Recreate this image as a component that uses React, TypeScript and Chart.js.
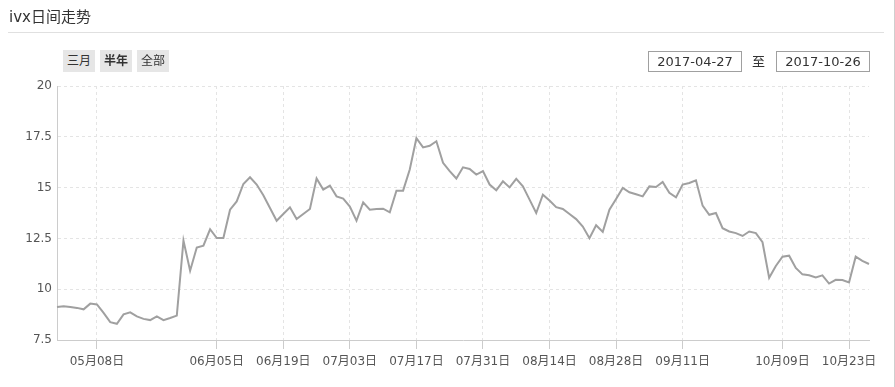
import React, { useEffect, useRef } from "react";
import { Chart, registerables } from "chart.js";

Chart.register(...registerables);

const titleText = "ivx日间走势";
const rangeButtons = ["三月", "半年", "全部"];
const activeButton = "半年";
const startDate = "2017-04-27";
const endDate = "2017-10-26";

const dates = [
  "04月27日", "04月28日",
  "05月02日", "05月03日", "05月04日", "05月05日", "05月08日", "05月09日", "05月10日", "05月11日", "05月12日",
  "05月15日", "05月16日", "05月17日", "05月18日", "05月19日", "05月22日", "05月23日", "05月24日", "05月25日", "05月26日", "05月31日",
  "06月01日", "06月02日", "06月05日", "06月06日", "06月07日", "06月08日", "06月09日", "06月12日", "06月13日", "06月14日", "06月15日", "06月16日",
  "06月19日", "06月20日", "06月21日", "06月22日", "06月23日", "06月26日", "06月27日", "06月28日", "06月29日", "06月30日",
  "07月03日", "07月04日", "07月05日", "07月06日", "07月07日", "07月10日", "07月11日", "07月12日", "07月13日", "07月14日",
  "07月17日", "07月18日", "07月19日", "07月20日", "07月21日", "07月24日", "07月25日", "07月26日", "07月27日", "07月28日", "07月31日",
  "08月01日", "08月02日", "08月03日", "08月04日", "08月07日", "08月08日", "08月09日", "08月10日", "08月11日",
  "08月14日", "08月15日", "08月16日", "08月17日", "08月18日", "08月21日", "08月22日", "08月23日", "08月24日", "08月25日",
  "08月28日", "08月29日", "08月30日", "08月31日", "09月01日", "09月04日", "09月05日", "09月06日", "09月07日", "09月08日",
  "09月11日", "09月12日", "09月13日", "09月14日", "09月15日", "09月18日", "09月19日", "09月20日", "09月21日", "09月22日",
  "09月25日", "09月26日", "09月27日", "09月28日", "09月29日",
  "10月09日", "10月10日", "10月11日", "10月12日", "10月13日", "10月16日", "10月17日", "10月18日", "10月19日", "10月20日",
  "10月23日", "10月24日", "10月25日", "10月26日",
];

const ivxValues = [
  9.12, 9.16,
  9.12, 9.08, 9.01, 9.29, 9.25, 8.83, 8.38, 8.30, 8.76,
  8.86, 8.66, 8.54, 8.48, 8.66, 8.48, 8.58, 8.70, 12.39, 10.91, 12.05,
  12.14, 12.95, 12.52, 12.52, 13.91, 14.32, 15.18, 15.51, 15.15, 14.62, 14.00, 13.37,
  13.70, 14.03, 13.45, 13.70, 13.95, 15.45, 14.90, 15.10, 14.57, 14.46,
  14.07, 13.37, 14.27, 13.91, 13.95, 13.96, 13.78, 14.85, 14.85, 15.89,
  17.43, 16.98, 17.06, 17.28, 16.22, 15.81, 15.45, 16.00, 15.92, 15.64, 15.81,
  15.15, 14.87, 15.31, 15.01, 15.43, 15.06, 14.41, 13.75, 14.65,
  14.36, 14.04, 13.95, 13.70, 13.45, 13.08, 12.51, 13.15, 12.82, 13.91,
  14.44, 14.98, 14.77, 14.67, 14.57, 15.06, 15.03, 15.28, 14.74, 14.52,
  15.15, 15.23, 15.36, 14.11, 13.66, 13.75, 13.00, 12.84, 12.76, 12.62,
  12.84, 12.76, 12.31, 10.56, 11.14,
  11.60, 11.65, 11.05, 10.73, 10.69, 10.58, 10.68, 10.28, 10.46, 10.45,
  10.33, 11.60, 11.39, 11.24,
];

const shownTicks = [
  "05月08日", "06月05日", "06月19日", "07月03日", "07月17日", "07月31日",
  "08月14日", "08月28日", "09月11日", "10月09日", "10月23日",
];

const yMin = 7.5;
const yMax = 20;
const yStep = 2.5;

const FONT = '"DejaVu Sans", "Noto Sans CJK SC", sans-serif';

export default function App() {
  const canvasRef = useRef<HTMLCanvasElement | null>(null);

  useEffect(() => {
    if (!canvasRef.current) return;
    const isShown = (i: number) => shownTicks.includes(dates[i]);
    const chart = new Chart(canvasRef.current, {
      type: "line",
      data: {
        labels: dates,
        datasets: [
          {
            label: "ivx",
            data: ivxValues,
            borderColor: "#a0a0a0",
            borderWidth: 2,
            pointRadius: 0,
            pointHoverRadius: 0,
            tension: 0,
            fill: false,
          },
        ],
      },
      options: {
        animation: false,
        responsive: false,
        maintainAspectRatio: false,
        events: [],
        layout: { padding: { left: 0, top: 86, right: 26, bottom: 0 } },
        plugins: {
          legend: { display: false },
          tooltip: { enabled: false },
          title: { display: false },
        },
        scales: {
          x: {
            type: "category",
            offset: false,
            afterFit: (scale: any) => {
              scale.height = 47;
            },
            border: { display: true, color: "#cccccc", width: 1, dash: [3, 3] },
            grid: {
              display: true,
              drawOnChartArea: true,
              drawTicks: true,
              tickLength: 9,
              lineWidth: 1,
              color: (ctx: any) => (isShown(ctx.index) ? "#e4e4e4" : "rgba(0,0,0,0)"),
              tickColor: (ctx: any) => (isShown(ctx.index) ? "#cccccc" : "rgba(0,0,0,0)"),
              tickBorderDash: [],
            } as any,
            ticks: {
              autoSkip: false,
              maxRotation: 0,
              minRotation: 0,
              padding: 6,
              color: "#555555",
              font: { family: FONT, size: 12 },
              callback: (_v: any, i: number) => (isShown(i) ? dates[i] : ""),
            },
          },
          y: {
            min: yMin,
            max: yMax,
            afterFit: (scale: any) => {
              scale.width = 57;
            },
            border: { display: true, color: "#cccccc", width: 1, dash: [3, 3] },
            grid: {
              display: true,
              drawTicks: false,
              color: "#e4e4e4",
              lineWidth: 1,
            },
            ticks: {
              stepSize: yStep,
              padding: 5,
              color: "#555555",
              font: { family: FONT, size: 12 },
            },
          },
        },
      } as any,
    });
    return () => chart.destroy();
  }, []);

  const abs = (s: React.CSSProperties): React.CSSProperties => ({ position: "absolute", ...s });

  return (
    <div
      style={abs({
        left: 0,
        top: 0,
        width: 895,
        height: 387,
        background: "#ffffff",
        fontFamily: FONT,
        color: "#333333",
        overflow: "hidden",
      })}
    >
      <canvas ref={canvasRef} width={895} height={387} style={abs({ left: 0, top: 0, width: 895, height: 387 })} />
      <div style={abs({ left: 9, top: 8, fontSize: 15, lineHeight: "18px", color: "#333333", whiteSpace: "nowrap" })}>
        {titleText}
      </div>
      <div style={abs({ left: 8, top: 32, width: 876, height: 1, background: "#e0e0e0" })} />
      {rangeButtons.map((b, i) => (
        <div
          key={b}
          style={abs({
            left: 63 + i * 37,
            top: 50,
            width: 32,
            height: 22,
            lineHeight: "22px",
            fontSize: 12,
            textAlign: "center",
            background: "#e6e6e6",
            fontWeight: b === activeButton ? "bold" : "normal",
            color: "#333333",
          })}
        >
          {b}
        </div>
      ))}
      <div
        style={abs({
          left: 648,
          top: 51,
          width: 94,
          height: 21,
          boxSizing: "border-box",
          border: "1px solid #a0a0a0",
          fontSize: 13,
          lineHeight: "19px",
          textAlign: "center",
          color: "#333333",
        })}
      >
        {startDate}
      </div>
      <div style={abs({ left: 752, top: 51, fontSize: 13, lineHeight: "21px", color: "#333333" })}>至</div>
      <div
        style={abs({
          left: 776,
          top: 51,
          width: 94,
          height: 21,
          boxSizing: "border-box",
          border: "1px solid #a0a0a0",
          fontSize: 13,
          lineHeight: "19px",
          textAlign: "center",
          color: "#333333",
        })}
      >
        {endDate}
      </div>
      <div style={abs({ left: 894, top: 0, width: 1, height: 387, background: "#cfcfcf" })} />
    </div>
  );
}
